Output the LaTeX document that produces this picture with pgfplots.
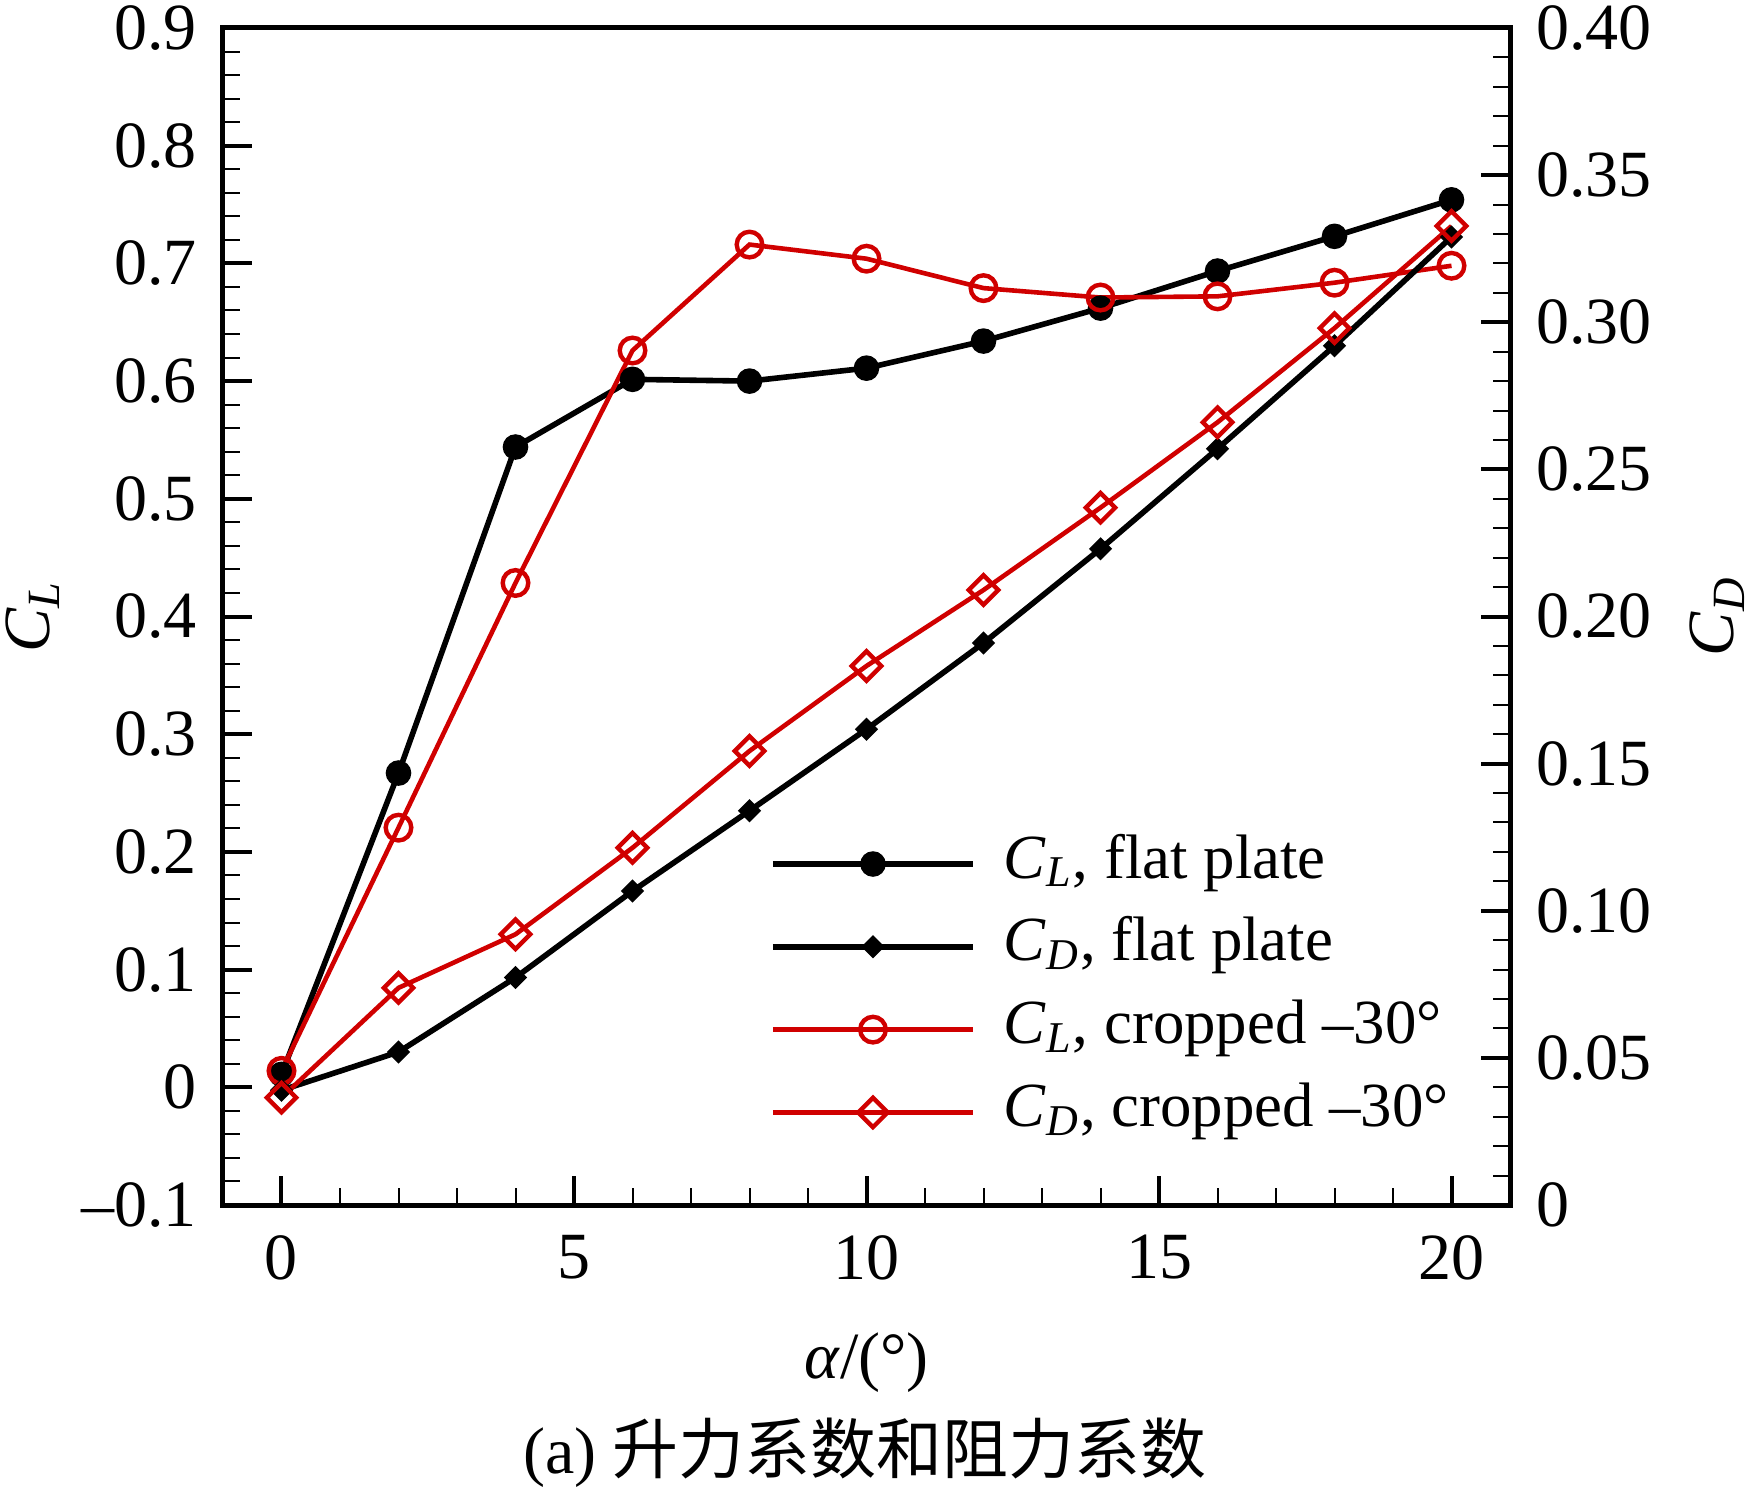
\documentclass[border=0pt]{standalone}
\usepackage{fontspec}
\setmainfont{Liberation Serif}
\newfontfamily\cjk{Noto Sans CJK SC}
\usepackage{pgfplots}
\pgfplotsset{compat=1.18}
\definecolor{myred}{RGB}{208,0,0}

\pgfplotstableread{
x CLf CLc
0 0.011 0.014
2 0.267 0.2206
4 0.544 0.4285
6 0.6015 0.626
8 0.600 0.716
10 0.611 0.704
12 0.634 0.679
14 0.662 0.671
16 0.6935 0.672
18 0.723 0.6836
20 0.754 0.698
}\cltable
\pgfplotstableread{
x CDf CDc
0 0.039 0.0365
2 0.052 0.0738
4 0.0773 0.092
6 0.1067 0.1214
8 0.134 0.1543
10 0.1617 0.1832
12 0.191 0.209
14 0.223 0.237
16 0.257 0.266
18 0.292 0.298
20 0.329 0.3327
}\cdtable

\newcommand{\sub}[2]{\textit{#1}\textsubscript{\textit{#2}}}

\begin{document}
\begin{tikzpicture}
\pgfplotsset{
  every axis/.append style={
    scale only axis, width=321.75pt, height=294.25pt,
    xmin=-1, xmax=21,
    tick align=inside,
    major tick length=7.25pt, minor tick length=4.2pt,
    every major tick/.style={line width=1pt, black},
    every minor tick/.style={line width=0.5pt, black},
    axis line style={line width=1.25pt},
    tick label style={font=\fontsize{16.5}{18}\selectfont},
    label style={font=\fontsize{16.5}{18}\selectfont},
  },
  blkline/.style={black, line width=1.4pt},
  redline/.style={myred, line width=1.15pt},
  mCLf/.style={mark=*, mark size=3pt, mark options={solid, line width=0.4pt}},
  mCDf/.style={mark=square*, mark size=1.85pt, mark options={solid, rotate=45, line width=0.4pt}},
  mCLc/.style={mark=o, mark size=3.2pt, mark options={solid, line width=1.1pt, fill=none}},
  mCDc/.style={mark=square, mark size=2.6pt, mark options={solid, rotate=45, line width=1.1pt, fill=none}},
}
\begin{axis}[
  ymin=-0.1, ymax=0.9,
  xtick={0,5,10,15,20}, xticklabels={0,5,10,15,20},
  minor x tick num=4,
  ytick={-0.1,0,0.1,0.2,0.3,0.4,0.5,0.6,0.7,0.8,0.9},
  yticklabels={–0.1,0,0.1,0.2,0.3,0.4,0.5,0.6,0.7,0.8,0.9},
  minor y tick num=4,
  xtick pos=left, ytick pos=left,
  xticklabel style={yshift=-4pt},
  yticklabel style={xshift=-3pt},
  xlabel={\textit{α}/(°)},
  xlabel style={at={(axis description cs:0.5,-0.134)}, anchor=center},
  ylabel={\sub{C}{L}},
  ylabel style={at={(axis description cs:-0.148,0.5)}, anchor=center},
]
\addplot[blkline, mCLf] table[x=x, y=CLf] {\cltable};
\addplot[redline, mCLc] table[x=x, y=CLc] {\cltable};
\end{axis}
\begin{axis}[
  ymin=0, ymax=0.4,
  axis y line*=right, hide x axis,
  axis line style={-, line width=1.25pt},
  ytick={0,0.05,0.1,0.15,0.2,0.25,0.3,0.35,0.4},
  yticklabels={0,0.05,0.10,0.15,0.20,0.25,0.30,0.35,0.40},
  minor y tick num=4,
  ytick pos=right,
  yticklabel style={xshift=3pt},
  ylabel={\sub{C}{D}},
  ylabel style={at={(axis description cs:1.161,0.5)}, anchor=center},
  legend cell align=left,
  legend image code/.code={
    \draw[mark repeat=2, mark phase=2] plot coordinates {(0pt,0pt) (25pt,0pt) (50pt,0pt)};
  },
  legend style={draw=none, fill=none, inner sep=0pt, outer sep=0pt,
    at={(axis description cs:0.425,0.3237)}, anchor=north west,
    font=\fontsize{15.7}{17}\selectfont, row sep=0.7pt,
    nodes={text height=11pt, text depth=4pt, inner sep=2.5pt},
    /tikz/every odd column/.append style={column sep=4.5pt}},
]
\addlegendimage{blkline, line width=1.5pt, mCLf}
\addlegendentry{\sub{C}{L}, flat plate}
\addplot[blkline, mCDf] table[x=x, y=CDf] {\cdtable};
\addlegendentry{\sub{C}{D}, flat plate}
\addlegendimage{redline, mCLc}
\addlegendentry{\sub{C}{L}, cropped –30°}
\addplot[redline, mCDc] table[x=x, y=CDc] {\cdtable};
\addlegendentry{\sub{C}{D}, cropped –30°}
\end{axis}
\node[font=\fontsize{16.5}{18}\selectfont, anchor=center] at (160.5pt,-62pt) {(a) {\cjk 升力系数和阻力系数}};
\pgfresetboundingbox
\path[use as bounding box] (-55.75pt,-71.5pt) rectangle (382.75pt,301.25pt);
\end{tikzpicture}
\end{document}
